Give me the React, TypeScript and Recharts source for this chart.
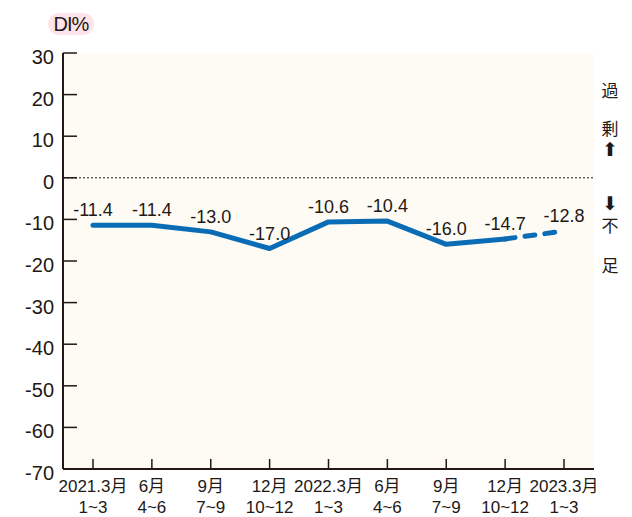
import React from 'react';
import { LineChart, Line, XAxis, YAxis, CartesianGrid, ReferenceLine, LabelList } from 'recharts';

const months = ['2021.3月', '6月', '9月', '12月', '2022.3月', '6月', '9月', '12月', '2023.3月'];
const quarters = ['1~3', '4~6', '7~9', '10~12', '1~3', '4~6', '7~9', '10~12', '1~3'];
const actual = [-11.4, -11.4, -13.0, -17.0, -10.6, -10.4, -16.0, -14.7, null];
const forecast = [null, null, null, null, null, null, null, -14.7, -12.8];
const yTicks = [30, 20, 10, 0, -10, -20, -30, -40, -50, -60, -70];
const sideLabels = ['過', '剰', '⬆', '⬇', '不', '足'];

const data = months.map((m, i) => ({
  key: `p${i}`,
  actual: actual[i],
  forecast: forecast[i],
}));

const INK = '#231815';
const BLUE = '#0a6cb5';
const FONT = '"Liberation Sans", "Noto Sans CJK JP", sans-serif';

const YTick = ({ x, y, payload }: any) => (
  <g>
    <text x={x} y={y} dy={4} textAnchor="end" dominantBaseline="central" fontSize={20} fill={INK} fontFamily={FONT}>
      {payload.value}
    </text>
    <line x1={x + 9} x2={x + 23} y1={y} y2={y} stroke={INK} strokeWidth={1.5} />
  </g>
);

const XTick = ({ x, y, payload, index }: any) => {
  const i = index ?? payload.index;
  return (
    <g>
      <line x1={x} x2={x} y1={y} y2={y - 10} stroke={INK} strokeWidth={1.5} />
      <text x={x} y={y + 17} textAnchor="middle" dominantBaseline="central" fontSize={17} fill={INK} fontFamily={FONT}>
        {months[i]}
      </text>
      <text x={x} y={y + 38} textAnchor="middle" dominantBaseline="central" fontSize={17} fill={INK} fontFamily={FONT}>
        {quarters[i]}
      </text>
    </g>
  );
};

const makeLabel = (skip: number[]) => (props: any) => {
  const { x, y, value, index } = props;
  if (value == null || skip.includes(index)) return null;
  return (
    <text x={x} y={y - 15} textAnchor="middle" dominantBaseline="central" fontSize={18} fill={INK} fontFamily={FONT}>
      {Number(value).toFixed(1)}
    </text>
  );
};

const sideY = [90, 128, 149, 203, 225, 265];

export default function App() {
  return (
    <div style={{ position: 'absolute', left: 0, top: 0, width: 632, height: 517, background: '#fff', overflow: 'hidden' }}>
      <LineChart width={632} height={517} data={data} margin={{ top: 53, right: 38, bottom: 0, left: 0 }}>
        <CartesianGrid horizontal={false} vertical={false} fill="#fdfbf4" />
        <XAxis
          dataKey="key"
          height={48}
          padding={{ left: 30, right: 30 }}
          axisLine={{ stroke: INK, strokeWidth: 2 }}
          tickLine={false}
          tickSize={0}
          tickMargin={0}
          interval={0}
          tick={<XTick />}
        />
        <XAxis xAxisId="top" orientation="top" height={0} tick={false} tickLine={false} axisLine={{ stroke: INK, strokeWidth: 2 }} />
        <YAxis
          type="number"
          width={63}
          domain={[-70, 30]}
          ticks={yTicks}
          interval={0}
          axisLine={{ stroke: INK, strokeWidth: 2 }}
          tickLine={false}
          tickSize={0}
          tickMargin={9}
          tick={<YTick />}
        />
        <YAxis yAxisId="right" orientation="right" width={0} tick={false} tickLine={false} axisLine={{ stroke: INK, strokeWidth: 2 }} />
        <ReferenceLine y={0} stroke={INK} strokeWidth={1} strokeDasharray="2 2" />
        <Line
          dataKey="actual"
          stroke={BLUE}
          strokeWidth={5}
          strokeLinecap="round"
          strokeLinejoin="round"
          dot={false}
          activeDot={false}
          isAnimationActive={false}
        >
          <LabelList dataKey="actual" content={makeLabel([])} />
        </Line>
        <Line
          dataKey="forecast"
          stroke={BLUE}
          strokeWidth={5}
          strokeLinecap="round"
          strokeDasharray="10 10"
          dot={false}
          activeDot={false}
          isAnimationActive={false}
        >
          <LabelList dataKey="forecast" content={makeLabel([7])} />
        </Line>
      </LineChart>
      <div
        style={{
          position: 'absolute',
          left: 48,
          top: 13,
          width: 46,
          height: 22,
          borderRadius: 11,
          background: '#fce4ea',
          color: INK,
          fontFamily: FONT,
          fontSize: 20,
          lineHeight: '22px',
          textAlign: 'center',
          letterSpacing: -1,
        }}
      >
        DI%
      </div>
      {sideLabels.map((s, i) => {
        const arrow = i === 2 || i === 3;
        return (
          <div
            key={i}
            style={{
              position: 'absolute',
              left: 598,
              width: 24,
              top: sideY[i] - 8,
              height: 16,
              lineHeight: '16px',
              textAlign: 'center',
              fontFamily: arrow ? '"DejaVu Sans", sans-serif' : '"Noto Sans CJK JP", sans-serif',
              fontSize: arrow ? 19 : 17,
              color: INK,
            }}
          >
            {s}
          </div>
        );
      })}
    </div>
  );
}
